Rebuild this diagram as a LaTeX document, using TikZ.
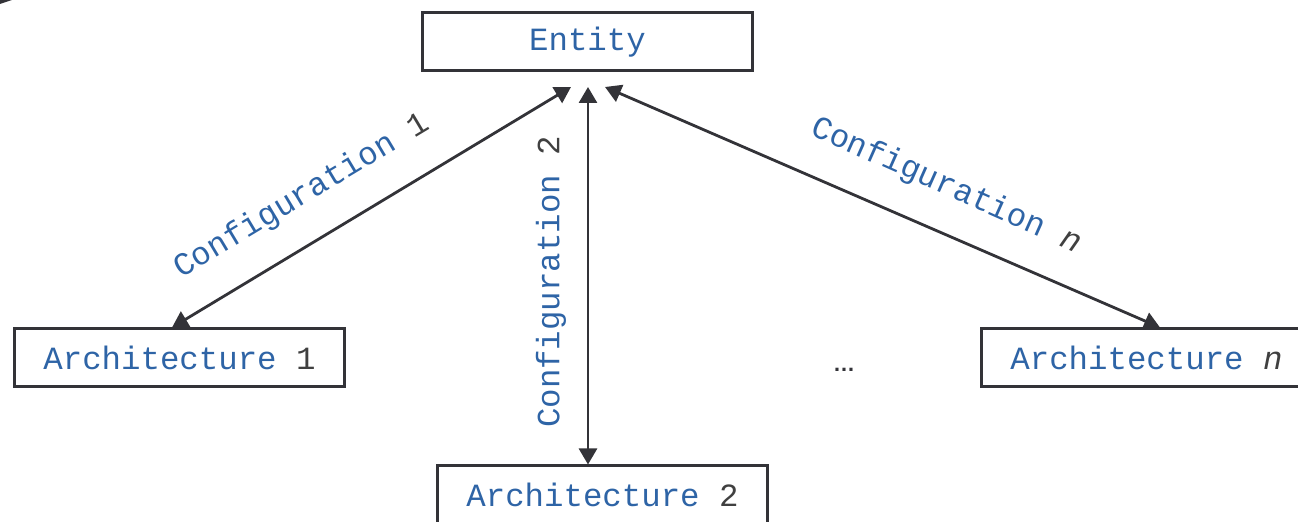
\documentclass[tikz,border=0pt]{standalone}
\usepackage{fontspec}
\setmonofont{Liberation Mono}
\setsansfont{Liberation Sans}
\usetikzlibrary{arrows.meta}
\definecolor{txtblue}{RGB}{46,100,166}
\definecolor{numgray}{RGB}{64,64,64}
\definecolor{linegray}{RGB}{51,51,56}
\newcommand\nm[1]{\textcolor{numgray}{#1}}
\begin{document}
\begin{tikzpicture}[x=0.5pt,y=-0.5pt,
  box/.style={draw=linegray,line width=1.5pt,minimum width=165pt,minimum height=29pt,
    inner sep=0pt,font=\ttfamily\fontsize{16.2}{18}\selectfont,text=txtblue},
  lbl/.style={font=\ttfamily\fontsize{16.2}{18}\selectfont,text=txtblue,inner sep=0pt},
  link/.style={draw=linegray,line width=1.4pt,
    {Triangle[length=8pt,width=9pt]}-{Triangle[length=8pt,width=9pt]}}]
  \useasboundingbox (0,0) rectangle (1298,522);
  % corner mark
  \fill[linegray] (0,0) -- (12,0) -- (0,4) -- cycle;
  % boxes
  \node[box] (ent) at (587.5,42) {Entity};
  \node[box] (a1) at (179.5,358) {Architecture \nm{1}};
  \node[box] (a2) at (602.5,495) {Architecture \nm{2}};
  \node[box] (an) at (1146.5,358) {Architecture \nm{\itshape n}};
  % arrow ends below the entity box
  \coordinate (e1) at (571,87);
  \coordinate (e2) at (588,87);
  \coordinate (en) at (605,87);
  % links
  \draw[link] (e1) -- ([xshift=-3.75pt]a1.north);
  \draw[link] (e2) -- (e2 |- a2.north);
  \draw[link] (en) -- ([xshift=6.75pt]an.north);
  % link labels
  \node[lbl,rotate=31] (l1) at (302,196) {Configuration \nm{1}};
  \node[lbl,rotate=90] (l2) at (551,282) {Configuration \nm{2}};
  \node[lbl,rotate=-24] (ln) at (946,186) {Configuration \nm{\itshape n}};
  % ellipsis
  \node[font=\sffamily\bfseries\fontsize{11}{12}\selectfont,text=linegray,inner sep=0pt] (dots) at (844,370) {…};
\end{tikzpicture}
\end{document}
